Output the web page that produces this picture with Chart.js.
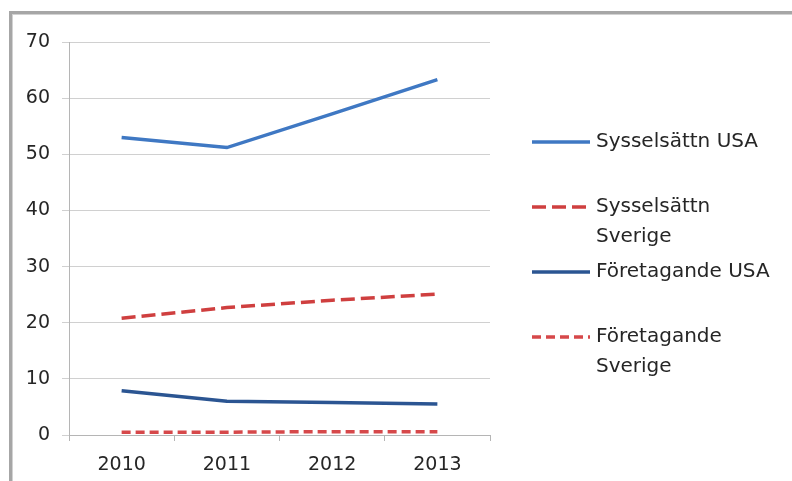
<!DOCTYPE html>
<html>
<head>
<meta charset="utf-8">
<script src="https://cdn.jsdelivr.net/npm/chart.js@4"></script>
<style>
  html, body { margin: 0; padding: 0; background: #ffffff; }
  #wrap { width: 792px; height: 481px; position: relative; }
  canvas { display: block; }
</style>
</head>
<body>
<div id="wrap"><canvas id="c" width="792" height="481"></canvas></div>
<script>
// Years on the category axis
const years = ['2010', '2011', '2012', '2013'];

// Series names (\n marks where the legend wraps)
const seriesNames = [
  'Sysselsättn USA',
  'Sysselsättn\nSverige',
  'Företagande USA',
  'Företagande\nSverige'
];

// Series values
const sysselsattnUSA     = [53.0, 51.2, 57.2, 63.3];
const sysselsattnSverige = [20.8, 22.7, 24.0, 25.1];
const foretagandeUSA     = [7.9, 6.0, 5.8, 5.5];
const foretagandeSverige = [0.5, 0.5, 0.6, 0.6];

// Value axis ticks
const yTicks = [0, 10, 20, 30, 40, 50, 60, 70];

const FONT = '"DejaVu Sans", "Liberation Sans", Arial, sans-serif';
const TEXT = '#262626';

const styles = [
  { color: '#3f78c3', dash: [] },
  { color: '#cf3f3f', dash: [14, 6] },
  { color: '#2b5592', dash: [] },
  { color: '#d6484a', dash: [9, 5] }
];
const values = [sysselsattnUSA, sysselsattnSverige, foretagandeUSA, foretagandeSverige];

const datasets = values.map((v, i) => ({
  label: seriesNames[i].replace('\n', ' '),
  data: v,
  borderColor: styles[i].color,
  backgroundColor: styles[i].color,
  borderWidth: 3.5,
  borderDash: styles[i].dash,
  pointRadius: 0,
  tension: 0,
  fill: false
}));

// Outer frame of the figure (top and left edges)
const framePlugin = {
  id: 'frame',
  beforeDraw(chart) {
    const ctx = chart.ctx;
    ctx.save();
    ctx.fillStyle = '#a6a6a6';
    ctx.fillRect(9, 11, 792 - 9, 3);
    ctx.fillRect(9, 11, 3, 481 - 11);
    ctx.fillStyle = '#d2d2d2';
    ctx.fillRect(12, 14, 792 - 12, 1);
    ctx.fillRect(12, 14, 1, 481 - 14);
    ctx.restore();
  }
};

// Legend on the right with wrapped labels
const sideLegend = {
  id: 'sideLegend',
  afterDraw(chart) {
    const ctx = chart.ctx;
    const x0 = 532, sampleLen = 58, textX = 596;
    const firstY = 142, step = 65, lineH = 30;
    ctx.save();
    ctx.font = '20px ' + FONT;
    ctx.textBaseline = 'middle';
    ctx.textAlign = 'left';
    chart.data.datasets.forEach((ds, i) => {
      const y = firstY + i * step;
      ctx.beginPath();
      ctx.strokeStyle = ds.borderColor;
      ctx.lineWidth = ds.borderWidth;
      ctx.setLineDash(ds.borderDash || []);
      ctx.moveTo(x0, y);
      ctx.lineTo(x0 + sampleLen, y);
      ctx.stroke();
      ctx.setLineDash([]);
      ctx.fillStyle = TEXT;
      seriesNames[i].split('\n').forEach((t, k) => {
        ctx.fillText(t, textX, y + k * lineH);
      });
    });
    ctx.restore();
  }
};

new Chart(document.getElementById('c'), {
  type: 'line',
  data: { labels: years, datasets },
  plugins: [framePlugin, sideLegend],
  options: {
    responsive: false,
    animation: false,
    devicePixelRatio: 1,
    layout: { padding: { left: 0, right: 302, top: 42, bottom: 0 } },
    plugins: {
      legend: { display: false },
      tooltip: { enabled: false },
      title: { display: false }
    },
    scales: {
      x: {
        type: 'category',
        offset: true,
        grid: {
          offset: true,
          drawOnChartArea: false,
          drawTicks: true,
          tickLength: 6,
          color: '#b5b5b5',
          lineWidth: 1
        },
        border: { color: '#b5b5b5', width: 1 },
        ticks: {
          color: TEXT,
          font: { family: FONT, size: 19 },
          padding: 13,
          maxRotation: 0
        },
        afterFit(scale) { scale.height = 46; }
      },
      y: {
        min: 0,
        max: 70,
        afterBuildTicks(scale) { scale.ticks = yTicks.map(v => ({ value: v })); },
        grid: {
          color: '#d0d0d0',
          lineWidth: 1,
          tickLength: 7,
          drawTicks: true
        },
        border: { color: '#b5b5b5', width: 1 },
        ticks: {
          color: TEXT,
          font: { family: FONT, size: 19 },
          padding: 12
        },
        afterFit(scale) { scale.width = 69; }
      }
    }
  }
});
</script>
</body>
</html>
